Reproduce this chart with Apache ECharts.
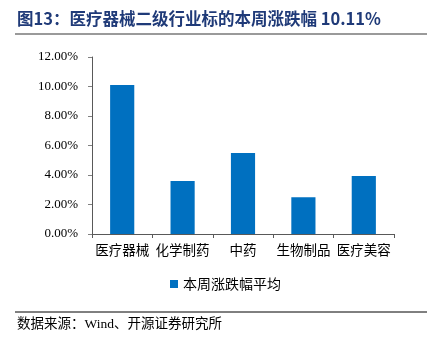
<!DOCTYPE html>
<html><head><meta charset="utf-8">
<script src="https://cdn.jsdelivr.net/npm/echarts@6/dist/echarts.min.js"></script>
<style>html,body{margin:0;padding:0;background:#fff}#c{width:436px;height:342px}</style>
</head><body><div id="c"></div>
<script>
const categories = ['医疗器械', '化学制药', '中药', '生物制品', '医疗美容'];
const seriesName = '本周涨跌幅平均';
const values = [10.11, 3.60, 5.49, 2.50, 3.94];
const yTicks = [0, 2, 4, 6, 8, 10, 12];

const chart = echarts.init(document.getElementById('c'));
chart.setOption({
  animation: false,
  backgroundColor: '#fff',
  grid: { left: 92, right: 42, top: 57, bottom: 108 },
  xAxis: {
    type: 'category', data: categories,
    axisLine: { lineStyle: { color: '#595959', width: 1 } },
    axisTick: { show: true, length: 4, lineStyle: { color: '#595959' } },
    axisLabel: { color: '#000', fontSize: 13.5, margin: 9, fontFamily: 'Noto Sans CJK SC', interval: 0 }
  },
  yAxis: {
    type: 'value', min: yTicks[0], max: yTicks[yTicks.length - 1], interval: 2,
    axisLine: { show: true, lineStyle: { color: '#595959', width: 1 } },
    axisTick: { show: true, length: 4, lineStyle: { color: '#808080' } },
    splitLine: { show: false },
    axisLabel: { color: '#000', fontSize: 13, margin: 14, fontFamily: 'Liberation Serif',
      formatter: v => v.toFixed(2) + '%' }
  },
  legend: {
    data: [seriesName], bottom: 46, left: 165,
    itemWidth: 8, itemHeight: 8, icon: 'rect', itemGap: 5,
    textStyle: { color: '#000', fontSize: 14, fontFamily: 'Noto Sans CJK SC' }
  },
  series: [{
    name: seriesName, type: 'bar', data: values, barWidth: '40%',
    itemStyle: { color: '#0070C0' }
  }],
  graphic: [
    { type: 'text', left: 17, top: 10, style: { text: '图13：医疗器械二级行业标的本周涨跌幅 10.11%', fill: '#1F3A78', font: 'bold 16.5px "Noto Sans CJK SC", "Liberation Serif"' } },
    { type: 'line', shape: { x1: 15, y1: 34, x2: 427, y2: 34 }, style: { stroke: '#9a9a9a', lineWidth: 2 } },
    { type: 'line', shape: { x1: 15, y1: 312, x2: 427, y2: 312 }, style: { stroke: '#000', lineWidth: 1 } },
    { type: 'text', left: 17, top: 318, style: { text: '数据来源：Wind、开源证券研究所', fill: '#000', font: '13.5px "Liberation Serif", "Noto Sans CJK SC"' } }
  ]
});
</script></body></html>
